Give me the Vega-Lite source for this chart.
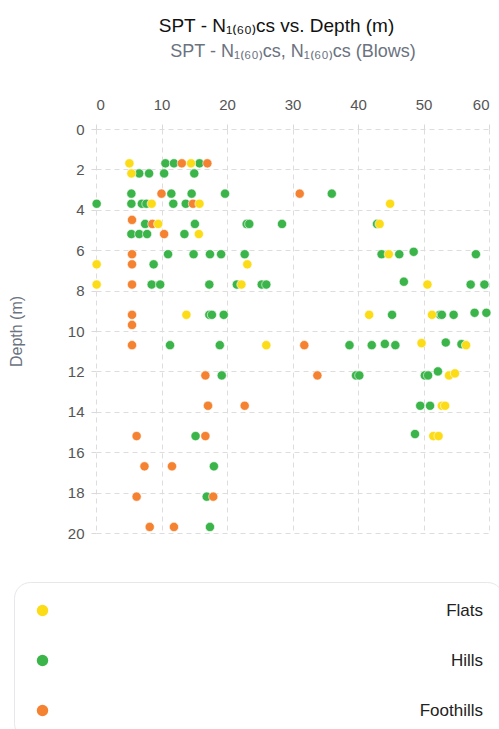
{
  "$schema": "https://vega.github.io/schema/vega-lite/v6.json",
  "autosize": {"type": "none"},
  "padding": {"left": 96, "top": 129, "right": 10, "bottom": 196},
  "width": 393,
  "height": 404,
  "background": "white",
  "title": {"text": "SPT - N₁₍₆₀₎cs vs. Depth (m)", "fontSize": 19, "fontWeight": "normal", "font": "Liberation Sans", "color": "#111111", "anchor": "middle", "dx": -16, "offset": 6},
  "config": {
    "view": {"stroke": null},
    "font": "Liberation Sans"
  },
  "data": {"values": [
    {"region": "Hills", "n": 10.6, "depth": 1.7},
    {"region": "Hills", "n": 11.9, "depth": 1.7},
    {"region": "Hills", "n": 15.8, "depth": 1.7},
    {"region": "Hills", "n": 6.6, "depth": 2.2},
    {"region": "Hills", "n": 8.1, "depth": 2.2},
    {"region": "Hills", "n": 10.4, "depth": 2.2},
    {"region": "Hills", "n": 15.0, "depth": 2.2},
    {"region": "Hills", "n": 5.4, "depth": 3.2},
    {"region": "Hills", "n": 11.5, "depth": 3.2},
    {"region": "Hills", "n": 14.6, "depth": 3.2},
    {"region": "Hills", "n": 19.7, "depth": 3.2},
    {"region": "Hills", "n": 36.0, "depth": 3.2},
    {"region": "Hills", "n": 0.1, "depth": 3.7},
    {"region": "Hills", "n": 5.4, "depth": 3.7},
    {"region": "Hills", "n": 7.0, "depth": 3.7},
    {"region": "Hills", "n": 7.7, "depth": 3.7},
    {"region": "Hills", "n": 11.8, "depth": 3.7},
    {"region": "Hills", "n": 13.7, "depth": 3.7},
    {"region": "Hills", "n": 7.5, "depth": 4.7},
    {"region": "Hills", "n": 15.1, "depth": 4.7},
    {"region": "Hills", "n": 23.0, "depth": 4.7},
    {"region": "Hills", "n": 23.4, "depth": 4.7},
    {"region": "Hills", "n": 28.4, "depth": 4.7},
    {"region": "Hills", "n": 42.9, "depth": 4.7},
    {"region": "Hills", "n": 5.4, "depth": 5.2},
    {"region": "Hills", "n": 6.6, "depth": 5.2},
    {"region": "Hills", "n": 7.8, "depth": 5.2},
    {"region": "Hills", "n": 13.5, "depth": 5.2},
    {"region": "Hills", "n": 11.0, "depth": 6.2},
    {"region": "Hills", "n": 14.9, "depth": 6.2},
    {"region": "Hills", "n": 17.4, "depth": 6.2},
    {"region": "Hills", "n": 19.1, "depth": 6.2},
    {"region": "Hills", "n": 22.7, "depth": 6.2},
    {"region": "Hills", "n": 43.6, "depth": 6.2},
    {"region": "Hills", "n": 46.3, "depth": 6.2},
    {"region": "Hills", "n": 48.5, "depth": 6.08},
    {"region": "Hills", "n": 58.0, "depth": 6.2},
    {"region": "Hills", "n": 8.8, "depth": 6.7},
    {"region": "Hills", "n": 8.5, "depth": 7.7},
    {"region": "Hills", "n": 9.8, "depth": 7.7},
    {"region": "Hills", "n": 17.3, "depth": 7.7},
    {"region": "Hills", "n": 21.5, "depth": 7.7},
    {"region": "Hills", "n": 25.3, "depth": 7.7},
    {"region": "Hills", "n": 26.0, "depth": 7.7},
    {"region": "Hills", "n": 47.0, "depth": 7.56},
    {"region": "Hills", "n": 57.2, "depth": 7.7},
    {"region": "Hills", "n": 59.3, "depth": 7.7},
    {"region": "Hills", "n": 17.3, "depth": 9.2},
    {"region": "Hills", "n": 17.7, "depth": 9.2},
    {"region": "Hills", "n": 19.5, "depth": 9.2},
    {"region": "Hills", "n": 45.2, "depth": 9.2},
    {"region": "Hills", "n": 52.5, "depth": 9.2},
    {"region": "Hills", "n": 52.8, "depth": 9.2},
    {"region": "Hills", "n": 54.6, "depth": 9.2},
    {"region": "Hills", "n": 57.8, "depth": 9.1},
    {"region": "Hills", "n": 59.6, "depth": 9.1},
    {"region": "Hills", "n": 11.3, "depth": 10.7},
    {"region": "Hills", "n": 18.9, "depth": 10.7},
    {"region": "Hills", "n": 38.7, "depth": 10.7},
    {"region": "Hills", "n": 42.1, "depth": 10.7},
    {"region": "Hills", "n": 44.1, "depth": 10.64},
    {"region": "Hills", "n": 45.7, "depth": 10.7},
    {"region": "Hills", "n": 53.4, "depth": 10.57},
    {"region": "Hills", "n": 55.8, "depth": 10.65},
    {"region": "Hills", "n": 19.2, "depth": 12.2},
    {"region": "Hills", "n": 39.7, "depth": 12.2},
    {"region": "Hills", "n": 40.2, "depth": 12.2},
    {"region": "Hills", "n": 50.2, "depth": 12.2},
    {"region": "Hills", "n": 50.7, "depth": 12.2},
    {"region": "Hills", "n": 52.2, "depth": 12.0},
    {"region": "Hills", "n": 17.1, "depth": 13.7},
    {"region": "Hills", "n": 49.5, "depth": 13.7},
    {"region": "Hills", "n": 51.0, "depth": 13.7},
    {"region": "Hills", "n": 15.2, "depth": 15.2},
    {"region": "Hills", "n": 48.7, "depth": 15.1},
    {"region": "Hills", "n": 18.0, "depth": 16.7},
    {"region": "Hills", "n": 16.9, "depth": 18.2},
    {"region": "Hills", "n": 17.4, "depth": 19.7},
    {"region": "Foothills", "n": 13.1, "depth": 1.7},
    {"region": "Foothills", "n": 17.0, "depth": 1.7},
    {"region": "Foothills", "n": 10.0, "depth": 3.2},
    {"region": "Foothills", "n": 31.1, "depth": 3.2},
    {"region": "Foothills", "n": 14.8, "depth": 3.7},
    {"region": "Foothills", "n": 5.5, "depth": 4.5},
    {"region": "Foothills", "n": 8.6, "depth": 4.7},
    {"region": "Foothills", "n": 10.4, "depth": 5.2},
    {"region": "Foothills", "n": 5.5, "depth": 6.2},
    {"region": "Foothills", "n": 5.5, "depth": 6.7},
    {"region": "Foothills", "n": 5.5, "depth": 7.7},
    {"region": "Foothills", "n": 5.5, "depth": 9.2},
    {"region": "Foothills", "n": 5.5, "depth": 9.7},
    {"region": "Foothills", "n": 5.5, "depth": 10.7},
    {"region": "Foothills", "n": 31.8, "depth": 10.7},
    {"region": "Foothills", "n": 16.7, "depth": 12.2},
    {"region": "Foothills", "n": 33.8, "depth": 12.2},
    {"region": "Foothills", "n": 17.1, "depth": 13.7},
    {"region": "Foothills", "n": 22.7, "depth": 13.7},
    {"region": "Foothills", "n": 6.2, "depth": 15.2},
    {"region": "Foothills", "n": 16.7, "depth": 15.2},
    {"region": "Foothills", "n": 7.4, "depth": 16.7},
    {"region": "Foothills", "n": 11.6, "depth": 16.7},
    {"region": "Foothills", "n": 6.2, "depth": 18.2},
    {"region": "Foothills", "n": 17.9, "depth": 18.2},
    {"region": "Foothills", "n": 8.2, "depth": 19.7},
    {"region": "Foothills", "n": 11.9, "depth": 19.7},
    {"region": "Flats", "n": 5.1, "depth": 1.7},
    {"region": "Flats", "n": 14.5, "depth": 1.7},
    {"region": "Flats", "n": 5.4, "depth": 2.2},
    {"region": "Flats", "n": 8.5, "depth": 3.7},
    {"region": "Flats", "n": 15.8, "depth": 3.7},
    {"region": "Flats", "n": 44.9, "depth": 3.7},
    {"region": "Flats", "n": 9.5, "depth": 4.7},
    {"region": "Flats", "n": 43.3, "depth": 4.7},
    {"region": "Flats", "n": 15.7, "depth": 5.2},
    {"region": "Flats", "n": 44.7, "depth": 6.2},
    {"region": "Flats", "n": 0.1, "depth": 6.7},
    {"region": "Flats", "n": 23.1, "depth": 6.7},
    {"region": "Flats", "n": 0.1, "depth": 7.7},
    {"region": "Flats", "n": 22.2, "depth": 7.7},
    {"region": "Flats", "n": 50.6, "depth": 7.7},
    {"region": "Flats", "n": 13.8, "depth": 9.2},
    {"region": "Flats", "n": 41.7, "depth": 9.2},
    {"region": "Flats", "n": 51.3, "depth": 9.2},
    {"region": "Flats", "n": 26.0, "depth": 10.7},
    {"region": "Flats", "n": 49.7, "depth": 10.6},
    {"region": "Flats", "n": 56.5, "depth": 10.7},
    {"region": "Flats", "n": 53.9, "depth": 12.2},
    {"region": "Flats", "n": 54.8, "depth": 12.1},
    {"region": "Flats", "n": 52.8, "depth": 13.7},
    {"region": "Flats", "n": 53.3, "depth": 13.7},
    {"region": "Flats", "n": 51.5, "depth": 15.2},
    {"region": "Flats", "n": 52.3, "depth": 15.2}
  ]},
  "mark": {"type": "circle", "size": 85, "opacity": 1, "stroke": "white", "strokeWidth": 0.6},
  "encoding": {
    "x": {
      "field": "n", "type": "quantitative",
      "scale": {"domain": [0, 60], "nice": false, "zero": false},
      "axis": {
        "orient": "top", "values": [0, 10, 20, 30, 40, 50, 60],
        "title": "SPT - N₁₍₆₀₎cs, N₁₍₆₀₎cs (Blows)",
        "titleColor": "#6b7280", "titleFontSize": 18, "titleFontWeight": "normal", "titlePadding": 37,
        "labelFontSize": 15, "labelColor": "#555555", "labelPadding": 8,
        "tickSize": 9, "tickColor": "#d9d9d9", "tickDash": [5, 4],
        "domain": false, "grid": true, "gridDash": [5, 4], "gridColor": "#dddddd"
      }
    },
    "y": {
      "field": "depth", "type": "quantitative",
      "scale": {"domain": [0, 20], "reverse": true, "nice": false, "zero": false},
      "axis": {
        "values": [0, 2, 4, 6, 8, 10, 12, 14, 16, 18, 20],
        "title": "Depth (m)",
        "titleColor": "#6b7280", "titleFontSize": 16, "titleFontWeight": "normal", "titlePadding": 43,
        "labelFontSize": 15, "labelColor": "#555555", "labelPadding": 3,
        "tickSize": 9, "tickColor": "#d9d9d9", "tickDash": [5, 4],
        "domain": false, "grid": true, "gridDash": [5, 4], "gridColor": "#dddddd"
      }
    },
    "color": {
      "field": "region", "type": "nominal",
      "scale": {"domain": ["Flats", "Hills", "Foothills"], "range": ["#fcdc17", "#3bb54a", "#f58231"]},
      "legend": {
        "title": null, "orient": "none", "legendX": -82, "legendY": 453,
        "direction": "vertical", "fillColor": "white", "strokeColor": "#e5e7eb",
        "cornerRadius": 16, "padding": 20, "symbolType": "circle", "symbolSize": 130,
        "symbolStrokeWidth": 0, "labelFontSize": 17, "labelColor": "#222222",
        "labelAlign": "right", "labelOffset": 432, "rowPadding": 32, "labelLimit": 500
      }
    }
  }
}
